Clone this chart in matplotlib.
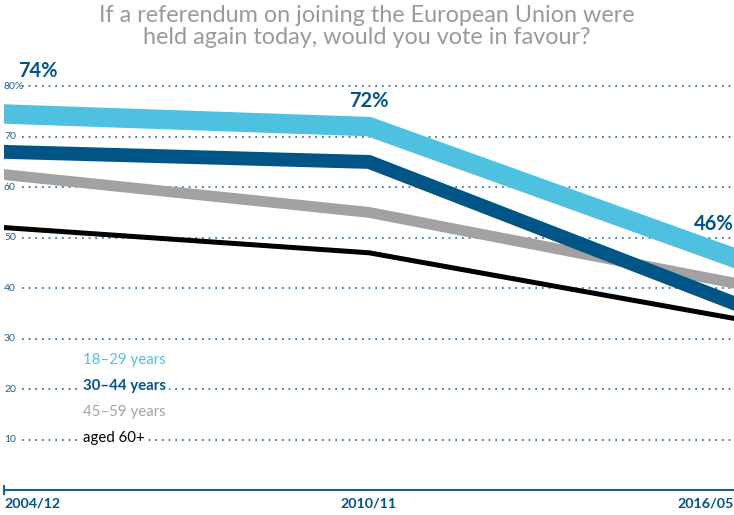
import matplotlib
matplotlib.use("Agg")
import matplotlib.pyplot as plt
import matplotlib.transforms as mtransforms

plt.rcParams['font.family'] = ['Lato', 'DejaVu Sans']

periods = ["2004/12", "2010/11", "2016/05"]
series_names = ["18–29 years", "30–44 years", "45–59 years", "aged 60+"]
v_18_29 = [74.5, 72, 46]
v_30_44 = [67, 65, 37]
v_45_59 = [62.5, 55, 41]
v_60 = [52, 47, 34]
yticks = [10, 20, 30, 40, 50, 60, 70, 80]
ytick_labels = ["10", "20", "30", "40", "50", "60", "70", "80%"]
annot_labels = ["74%", "72%", "46%"]

c_light = "#4fc1e0"
c_dark = "#005587"
c_gray = "#a2a2a4"
c_black = "#000000"
c_axis = "#1f5f8f"

fig = plt.figure(figsize=(7.34, 5.15), dpi=100)
ax = fig.add_axes([4/734, 1 - 490/515, 730/734, (490 - 61)/515])
ax.set_xlim(0, 2)
ax.set_ylim(0, 85)
for s in ax.spines.values():
    s.set_visible(False)
ax.set_xticks([])
ax.set_yticks([])

x = list(range(len(periods)))
ytrans = mtransforms.blended_transform_factory(ax.transAxes, ax.transData)

# gridlines
for yv, lab in zip(yticks, ytick_labels):
    ax.axhline(yv, xmin=0.025, xmax=1, color=c_axis, linestyle=(0, (1, 3)),
               linewidth=1.2, zorder=1)
    ax.text(0.0, yv, lab, transform=ytrans, ha="left", va="center",
            fontsize=7.5, color=c_axis, zorder=2)

# lines
ax.plot(x, v_60, color=c_black, linewidth=3.6, solid_joinstyle="miter",
        zorder=3)
ax.plot(x, v_45_59, color=c_gray, linewidth=7.8, solid_joinstyle="miter",
        zorder=3)
ax.plot(x, v_30_44, color=c_dark, linewidth=10, solid_joinstyle="miter",
        zorder=4)
ax.plot(x, v_18_29, color=c_light, linewidth=14, solid_joinstyle="miter",
        zorder=5)

# percentage annotations
ax.annotate(annot_labels[0], (x[0], v_18_29[0]), xytext=(10, 24),
            textcoords="offset points", ha="left", va="bottom",
            fontsize=14.5, fontweight="bold", color=c_dark, zorder=6)
ax.annotate(annot_labels[1], (x[1], v_18_29[1]), xytext=(0, 11),
            textcoords="offset points", ha="center", va="bottom",
            fontsize=14.5, fontweight="bold", color=c_dark, zorder=6)
ax.annotate(annot_labels[2], (x[2], v_18_29[2]), xytext=(0, 17),
            textcoords="offset points", ha="right", va="bottom",
            fontsize=14.5, fontweight="bold", color=c_dark, zorder=6)

# legend text
leg_colors = [c_light, c_dark, c_gray, c_black]
leg_y = [25.7, 20.6, 15.4, 10.3]
for name, col, yy in zip(series_names, leg_colors, leg_y):
    ax.text(0.108, yy, name, transform=ytrans,
            ha="left", va="center", fontsize=10.8, color=col,
            fontweight="bold" if col == c_dark else "normal",
            bbox=dict(facecolor="white", edgecolor="none", pad=2), zorder=7)

# x axis
ax.plot([0, 2], [0, 0], color=c_axis, linewidth=1.5, clip_on=False, zorder=3)
ax.plot([0, 0], [-0.7, 0.7], color=c_axis, linewidth=1.5, clip_on=False, zorder=3)
has = ["left", "center", "right"]
for xi, lab, ha in zip(x, periods, has):
    ax.text(xi, -1.5, lab, ha=ha, va="top", fontsize=10.3, fontweight="bold",
            color=c_dark)

fig.text(0.5, 0.99, "If a referendum on joining the European Union were\nheld again today, would you vote in favour?",
         ha="center", va="top", fontsize=16.8, color="#9a9a9a", linespacing=1.05)

fig.savefig("out.png", dpi=100)
